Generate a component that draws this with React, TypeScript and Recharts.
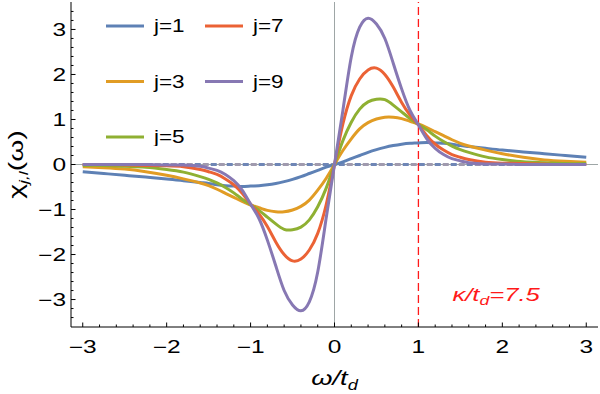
import { LineChart, Line, XAxis, YAxis, ReferenceLine, Legend } from "recharts";

// frequency grid (omega / t_d)
const OMEGA = [
  -3, -2.75, -2.5, -2.25, -2, -1.8, -1.6, -1.5, -1.4, -1.3, -1.2, -1.1, -1, -0.9, -0.8, -0.7, -0.6, -0.5, -0.4, -0.3, -0.2, -0.1,
  0,
  0.1, 0.2, 0.3, 0.4, 0.5, 0.6, 0.7, 0.8, 0.9, 1, 1.1, 1.2, 1.3, 1.4, 1.5, 1.6, 1.8, 2, 2.25, 2.5, 2.75, 3,
];

// chi_{j,l}(omega)
const CHI_J1 = [
  -0.16, -0.2, -0.24, -0.28, -0.32, -0.36, -0.4, -0.42, -0.45, -0.47, -0.48, -0.49, -0.48, -0.47, -0.45, -0.42, -0.38, -0.33, -0.27, -0.2, -0.13, -0.06,
  0,
  0.06, 0.13, 0.2, 0.27, 0.33, 0.38, 0.42, 0.45, 0.47, 0.48, 0.49, 0.48, 0.47, 0.45, 0.42, 0.4, 0.36, 0.32, 0.28, 0.24, 0.2, 0.16,
];
const CHI_J3 = [
  -0.05, -0.07, -0.1, -0.16, -0.24, -0.32, -0.41, -0.47, -0.55, -0.64, -0.73, -0.82, -0.9, -0.96, -1.02, -1.05, -1.05, -1.01, -0.93, -0.79, -0.57, -0.31,
  0,
  0.31, 0.57, 0.79, 0.93, 1.01, 1.05, 1.05, 1.02, 0.96, 0.9, 0.82, 0.73, 0.64, 0.55, 0.47, 0.41, 0.32, 0.24, 0.16, 0.1, 0.07, 0.05,
];
const CHI_J5 = [
  -0.02, -0.02, -0.04, -0.06, -0.11, -0.17, -0.27, -0.33, -0.41, -0.51, -0.63, -0.77, -0.89, -1.02, -1.17, -1.32, -1.44, -1.45, -1.39, -1.23, -0.94, -0.53,
  0,
  0.53, 0.94, 1.23, 1.39, 1.45, 1.44, 1.32, 1.17, 1.02, 0.89, 0.77, 0.63, 0.51, 0.41, 0.33, 0.27, 0.17, 0.11, 0.06, 0.04, 0.02, 0.02,
];
const CHI_J7 = [
  0, 0, -0.01, -0.02, -0.03, -0.05, -0.11, -0.16, -0.22, -0.32, -0.45, -0.64, -0.88, -1.1, -1.38, -1.72, -2.0, -2.14, -2.1, -1.9, -1.53, -0.9,
  0,
  0.9, 1.53, 1.9, 2.1, 2.14, 2.0, 1.72, 1.38, 1.1, 0.88, 0.64, 0.45, 0.32, 0.22, 0.16, 0.11, 0.05, 0.03, 0.02, 0.01, 0, 0,
];
const CHI_J9 = [
  0, 0, 0, 0, -0.01, -0.01, -0.04, -0.08, -0.13, -0.22, -0.36, -0.57, -0.88, -1.2, -1.68, -2.25, -2.8, -3.12, -3.25, -3.05, -2.39, -1.2,
  0,
  1.2, 2.39, 3.05, 3.25, 3.12, 2.8, 2.25, 1.68, 1.2, 0.88, 0.57, 0.36, 0.22, 0.13, 0.08, 0.04, 0.01, 0.01, 0, 0, 0, 0,
];

const SERIES_NAMES = ["j=1", "j=3", "j=5", "j=7", "j=9"];
const SERIES_COLORS = ["#5E81B5", "#E19C24", "#8FB032", "#EB6235", "#8778B3"];

const X_TICKS = [
  -3, -2.8, -2.6, -2.4, -2.2, -2, -1.8, -1.6, -1.4, -1.2, -1, -0.8, -0.6, -0.4, -0.2,
  0, 0.2, 0.4, 0.6, 0.8, 1, 1.2, 1.4, 1.6, 1.8, 2, 2.2, 2.4, 2.6, 2.8, 3,
];
const Y_TICKS = [
  -3.4, -3.2, -3, -2.8, -2.6, -2.4, -2.2, -2, -1.8, -1.6, -1.4, -1.2, -1, -0.8, -0.6, -0.4, -0.2,
  0, 0.2, 0.4, 0.6, 0.8, 1, 1.2, 1.4, 1.6, 1.8, 2, 2.2, 2.4, 2.6, 2.8, 3, 3.2, 3.4,
];

const KAPPA_LINE = 1;

const rows = OMEGA.map((w, i) => ({
  w,
  j1: CHI_J1[i],
  j3: CHI_J3[i],
  j5: CHI_J5[i],
  j7: CHI_J7[i],
  j9: CHI_J9[i],
}));
const KEYS = ["j1", "j3", "j5", "j7", "j9"];

const FONT = '"Liberation Sans", Arial, sans-serif';
const SX = 1.4; // glyphs in the original are drawn wide
const AXIS_GRAY = "#9ea6a6";

const isMajor = (v: number) => Math.abs(v - Math.round(v)) < 1e-6;
const fmt = (v: number) => (v < 0 ? "\u2212" + Math.abs(Math.round(v)) : String(Math.round(v)));

function BottomTick({ x, y, payload }: any) {
  const major = isMajor(payload.value);
  return (
    <g>
      <line x1={x} x2={x} y1={y} y2={y - (major ? 4.5 : 2.5)} stroke="#000" />
      {major && (
        <text transform={`translate(${x},${y + 25.5}) scale(${SX},1)`} textAnchor="middle" fontSize={17.5} fontFamily={FONT} fill="#000">
          {fmt(payload.value)}
        </text>
      )}
    </g>
  );
}

function TopTick({ x, y, payload }: any) {
  const major = isMajor(payload.value);
  return <line x1={x} x2={x} y1={y} y2={y + (major ? 4.5 : 2.5)} stroke="#000" />;
}

function LeftTick({ x, y, payload }: any) {
  const major = isMajor(payload.value);
  return (
    <g>
      <line x1={x} x2={x + (major ? 4.5 : 2.5)} y1={y} y2={y} stroke="#000" />
      {major && (
        <text transform={`translate(${x - 5},${y}) scale(${SX},1)`} dy="0.36em" textAnchor="end" fontSize={17.5} fontFamily={FONT} fill="#000">
          {fmt(payload.value)}
        </text>
      )}
    </g>
  );
}

function RightTick({ x, y, payload }: any) {
  const major = isMajor(payload.value);
  return <line x1={x} x2={x - (major ? 4.5 : 2.5)} y1={y} y2={y} stroke="#000" />;
}

function XTitle({ viewBox }: any) {
  const cx = viewBox.x + viewBox.width / 2;
  const by = viewBox.y + 58;
  return (
    <text transform={`translate(${cx},${by}) scale(1.3,1)`} textAnchor="middle" fontSize={21} fontFamily={FONT} fontStyle="italic" fill="#000">
      ω/t
      <tspan dy={5} fontSize={14}>d</tspan>
    </text>
  );
}

function YTitle({ viewBox }: any) {
  const cx = viewBox.x + 16;
  const cy = viewBox.y + viewBox.height / 2;
  return (
    <text transform={`translate(${cx},${cy}) rotate(-90) scale(1.35,1)`} dy="0.35em" textAnchor="middle" fontSize={21} fontFamily={FONT} fill="#000">
      χ
      <tspan dy={5} fontSize={13} fontStyle="italic">j,l</tspan>
      <tspan dy={-5}>(ω)</tspan>
    </text>
  );
}

function KappaLabel({ viewBox }: any) {
  const x0 = viewBox.x + 34;
  const by = viewBox.y + viewBox.height - 26;
  return (
    <text transform={`translate(${x0},${by}) scale(1.35,1)`} fontSize={19} fontFamily={FONT} fontStyle="italic" fill="#ff1a1a">
      κ/t
      <tspan dy={4} fontSize={13}>d</tspan>
      <tspan dy={-4}>=7.5</tspan>
    </text>
  );
}

function LegendBox({ payload }: any) {
  return (
    <svg width={200} height={130} style={{ display: "block" }}>
      {(payload || []).map((p: any, i: number) => {
        const col = i < 3 ? 0 : 1;
        const row = i < 3 ? i : i - 3;
        const x0 = 2 + col * 99;
        const y0 = 10 + row * 55.5;
        return (
          <g key={p.value}>
            <line x1={x0} x2={x0 + 38} y1={y0} y2={y0} stroke={p.color} strokeWidth={3} />
            <text transform={`translate(${x0 + 48},${y0}) scale(1.25,1)`} dy="0.36em" fontSize={18} fontFamily={FONT} fill="#000">
              {p.value}
            </text>
          </g>
        );
      })}
    </svg>
  );
}

export default function App() {
  return (
    <div style={{ position: "absolute", left: 0, top: 0, width: 600, height: 394, background: "#fff" }}>
      <LineChart width={600} height={394} data={rows} margin={{ top: 2, right: 2, bottom: 0, left: 0 }}>
        <XAxis
          dataKey="w"
          type="number"
          domain={[-3.14, 3.14]}
          ticks={X_TICKS}
          interval={0}
          tickSize={0}
          tickMargin={0}
          tickLine={false}
          tick={<BottomTick />}
          height={67}
          axisLine={{ stroke: "#000" }}
          label={XTitle}
        />
        <XAxis
          xAxisId="top"
          orientation="top"
          type="number"
          domain={[-3.14, 3.14]}
          ticks={X_TICKS}
          interval={0}
          tickSize={0}
          tickMargin={0}
          tickLine={false}
          tick={<TopTick />}
          height={0}
          axisLine={{ stroke: "#000" }}
        />
        <YAxis
          type="number"
          domain={[-3.61, 3.61]}
          ticks={Y_TICKS}
          interval={0}
          tickSize={0}
          tickMargin={0}
          tickLine={false}
          tick={<LeftTick />}
          width={71}
          axisLine={{ stroke: "#000" }}
          label={YTitle}
        />
        <YAxis
          yAxisId="right"
          orientation="right"
          type="number"
          domain={[-3.61, 3.61]}
          ticks={Y_TICKS}
          interval={0}
          tickSize={0}
          tickMargin={0}
          tickLine={false}
          tick={<RightTick />}
          width={0}
          axisLine={{ stroke: "#000" }}
        />
        <ReferenceLine y={0} stroke={AXIS_GRAY} strokeWidth={1} />
        <ReferenceLine x={0} stroke={AXIS_GRAY} strokeWidth={1} />
        <ReferenceLine
          segment={[{ x: OMEGA[0], y: 0 }, { x: OMEGA[OMEGA.length - 1], y: 0 }]}
          stroke="#6f86b6"
          strokeWidth={2.8}
          strokeDasharray="6 10"
        />
        <ReferenceLine
          segment={[{ x: OMEGA[0], y: 0 }, { x: OMEGA[OMEGA.length - 1], y: 0 }]}
          stroke="#a09aae"
          strokeWidth={2.8}
          strokeDasharray="6 10"
          strokeDashoffset={-8}
        />
        <ReferenceLine x={KAPPA_LINE} stroke="#ff1a1a" strokeWidth={1.3} strokeDasharray="8 4" label={KappaLabel} />
        {KEYS.map((k, i) => (
          <Line
            key={k}
            type="natural"
            dataKey={k}
            name={SERIES_NAMES[i]}
            stroke={SERIES_COLORS[i]}
            strokeWidth={3}
            dot={false}
            isAnimationActive={false}
          />
        ))}
        <Legend
          layout="horizontal"
          verticalAlign="middle"
          align="center"
          content={LegendBox}
          wrapperStyle={{ left: 104, top: 16, width: 200, height: 130 }}
        />
      </LineChart>
    </div>
  );
}
